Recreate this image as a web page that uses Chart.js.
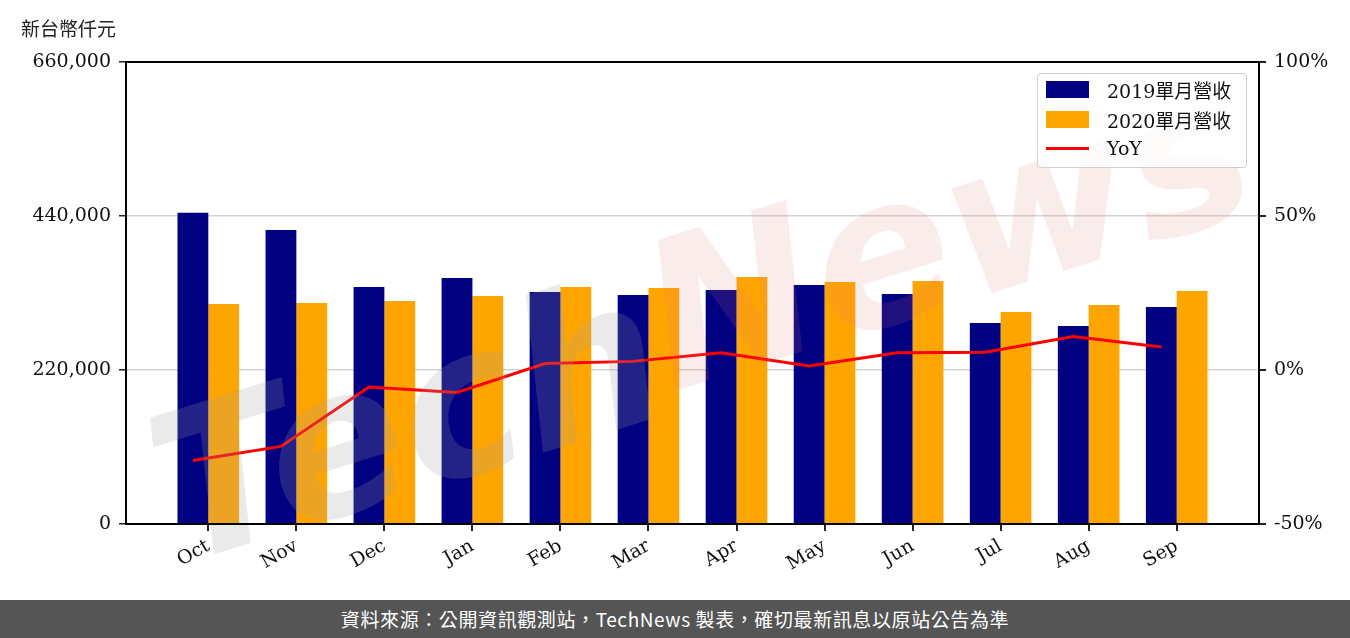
<!DOCTYPE html>
<html>
<head>
<meta charset="utf-8">
<script src="https://cdn.jsdelivr.net/npm/chart.js@4"></script>
<style>
  body { margin: 0; background: #fff; }
  #wrap { position: relative; width: 1350px; height: 638px; overflow: hidden; }
  #chartBox { position: absolute; left: 0; top: 0; width: 1350px; height: 600px; }
  #unit { position: absolute; left: 21px; top: 14px; font: 19px "Noto Sans CJK TC", sans-serif; color: #222; }
  #legend { position: absolute; left: 1037px; top: 73px; width: 208px; height: 93px; border: 1.5px solid #d0d0d0;
            border-radius: 4px; background: rgba(255,255,255,0.8); font: 19px "DejaVu Serif", "Noto Sans CJK TC", serif; color: #111; }
  .item { position: absolute; left: 8px; height: 30px; display: flex; align-items: center; }
  .sw { width: 43px; height: 17px; margin-right: 18px; }
  .ln { width: 43px; height: 3px; margin-right: 18px; background: #ff0000; }
  #footer { position: absolute; left: 0; top: 600px; width: 1350px; height: 38px; background: #555555; color: #fff;
            font: 400 19px "Noto Sans CJK TC", sans-serif; letter-spacing: 0.6px; text-align: center; line-height: 38px; }
</style>
</head>
<body>
<div id="wrap">
  <div id="chartBox"><canvas id="revChart"></canvas></div>
  <div id="unit">新台幣仟元</div>
  <div id="legend">
    <div class="item" style="top:0px"><div class="sw" style="background:#000080"></div>2019單月營收</div>
    <div class="item" style="top:30px"><div class="sw" style="background:#ffa500"></div>2020單月營收</div>
    <div class="item" style="top:59px"><div class="ln"></div>YoY</div>
  </div>
  <div id="footer">資料來源：公開資訊觀測站，TechNews 製表，確切最新訊息以原站公告為準</div>
</div>
<script>
// Data
const months = ["Oct", "Nov", "Dec", "Jan", "Feb", "Mar", "Apr", "May", "Jun", "Jul", "Aug", "Sep"];
const rev2019 = [444700, 420000, 338600, 351400, 331400, 327100, 334300, 341400, 328600, 287100, 282900, 310000];
const rev2020 = [314300, 315700, 318600, 325700, 338600, 337100, 352900, 345700, 347100, 302900, 312900, 332900];
const yoy = [-29.4, -24.8, -5.5, -7.3, 2.1, 2.8, 5.6, 1.3, 5.6, 5.8, 10.9, 7.5];
const leftTicks = [0, 220000, 440000, 660000];
const rightTicks = [-50, 0, 50, 100];

const BAR_HALF = 0.175; // line sits on the 2019 bar centre

const tickFont = { family: "'DejaVu Serif', serif", size: 19 };

// frame around the plot
const framePlugin = {
  id: 'frame',
  afterDraw(chart) {
    const a = chart.chartArea, ctx = chart.ctx;
    ctx.save();
    ctx.strokeStyle = '#000';
    ctx.lineWidth = 2;
    ctx.strokeRect(a.left, a.top, a.right - a.left, a.bottom - a.top);
    ctx.restore();
  }
};

// TechNews watermark
const watermark = {
  id: 'watermark',
  afterDatasetsDraw(chart) {
    const ctx = chart.ctx;
    ctx.save();
    ctx.translate(690, 320);
    ctx.rotate(-0.3);
    ctx.font = "italic bold 205px 'DejaVu Sans', sans-serif";
    ctx.textBaseline = 'middle';
    ctx.fillStyle = 'rgba(160,160,160,0.22)';
    ctx.fillText('Tech', -560, 30);
    ctx.fillStyle = 'rgba(225,120,120,0.14)';
    ctx.fillText('News', -40, 10);
    ctx.restore();
  }
};

const config = {
  type: 'bar',
  data: {
    datasets: [
      {
        type: 'line',
        label: 'YoY',
        data: yoy.map((v, i) => ({ x: i - BAR_HALF, y: v })),
        yAxisID: 'y2',
        borderColor: '#ff0000',
        borderWidth: 3,
        pointRadius: 0,
        tension: 0,
        order: 0
      },
      {
        label: '2019單月營收',
        data: rev2019.map((v, i) => ({ x: i, y: v })),
        backgroundColor: '#000080',
        yAxisID: 'y',
        categoryPercentage: 0.7,
        barPercentage: 1.0,
        order: 1
      },
      {
        label: '2020單月營收',
        data: rev2020.map((v, i) => ({ x: i, y: v })),
        backgroundColor: '#ffa500',
        yAxisID: 'y',
        categoryPercentage: 0.7,
        barPercentage: 1.0,
        order: 1
      }
    ]
  },
  options: {
    responsive: true,
    maintainAspectRatio: false,
    animation: false,
    layout: { padding: { top: 62, left: 0, right: 0, bottom: 0 } },
    plugins: { legend: { display: false }, tooltip: { enabled: false } },
    scales: {
      x: {
        type: 'linear',
        min: -0.935,
        max: 11.935,
        offset: false,
        afterBuildTicks: (s) => { s.ticks = months.map((m, i) => ({ value: i })); },
        afterFit: (s) => { s.height = 76; },
        ticks: {
          includeBounds: false,
          callback: (v) => months[v],
          font: tickFont,
          color: '#111',
          minRotation: 30,
          maxRotation: 30,
          autoSkip: false,
          padding: 4
        },
        grid: { offset: false, drawOnChartArea: false, tickLength: 7, tickColor: '#222', lineWidth: 2 },
        border: { display: false }
      },
      y: {
        position: 'left',
        min: 0,
        max: 660000,
        afterBuildTicks: (s) => { s.ticks = leftTicks.map(v => ({ value: v })); },
        afterFit: (s) => { s.width = 126; },
        ticks: {
          font: tickFont,
          color: '#111',
          padding: 8,
          callback: (v) => v.toLocaleString('en-US')
        },
        grid: { color: '#d3d3d3', lineWidth: 1.5, tickLength: 7, tickColor: '#222' },
        border: { display: false }
      },
      y2: {
        position: 'right',
        min: -50,
        max: 100,
        afterBuildTicks: (s) => { s.ticks = rightTicks.map(v => ({ value: v })); },
        afterFit: (s) => { s.width = 91; },
        ticks: {
          font: tickFont,
          color: '#111',
          padding: 8,
          callback: (v) => v + '%'
        },
        grid: { drawOnChartArea: false, tickLength: 7, tickColor: '#222', lineWidth: 2 },
        border: { display: false }
      }
    }
  },
  plugins: [watermark, framePlugin]
};

window.addEventListener('DOMContentLoaded', () => {
  const revChart = new Chart(document.getElementById('revChart'), config);
});
</script>
</body>
</html>
